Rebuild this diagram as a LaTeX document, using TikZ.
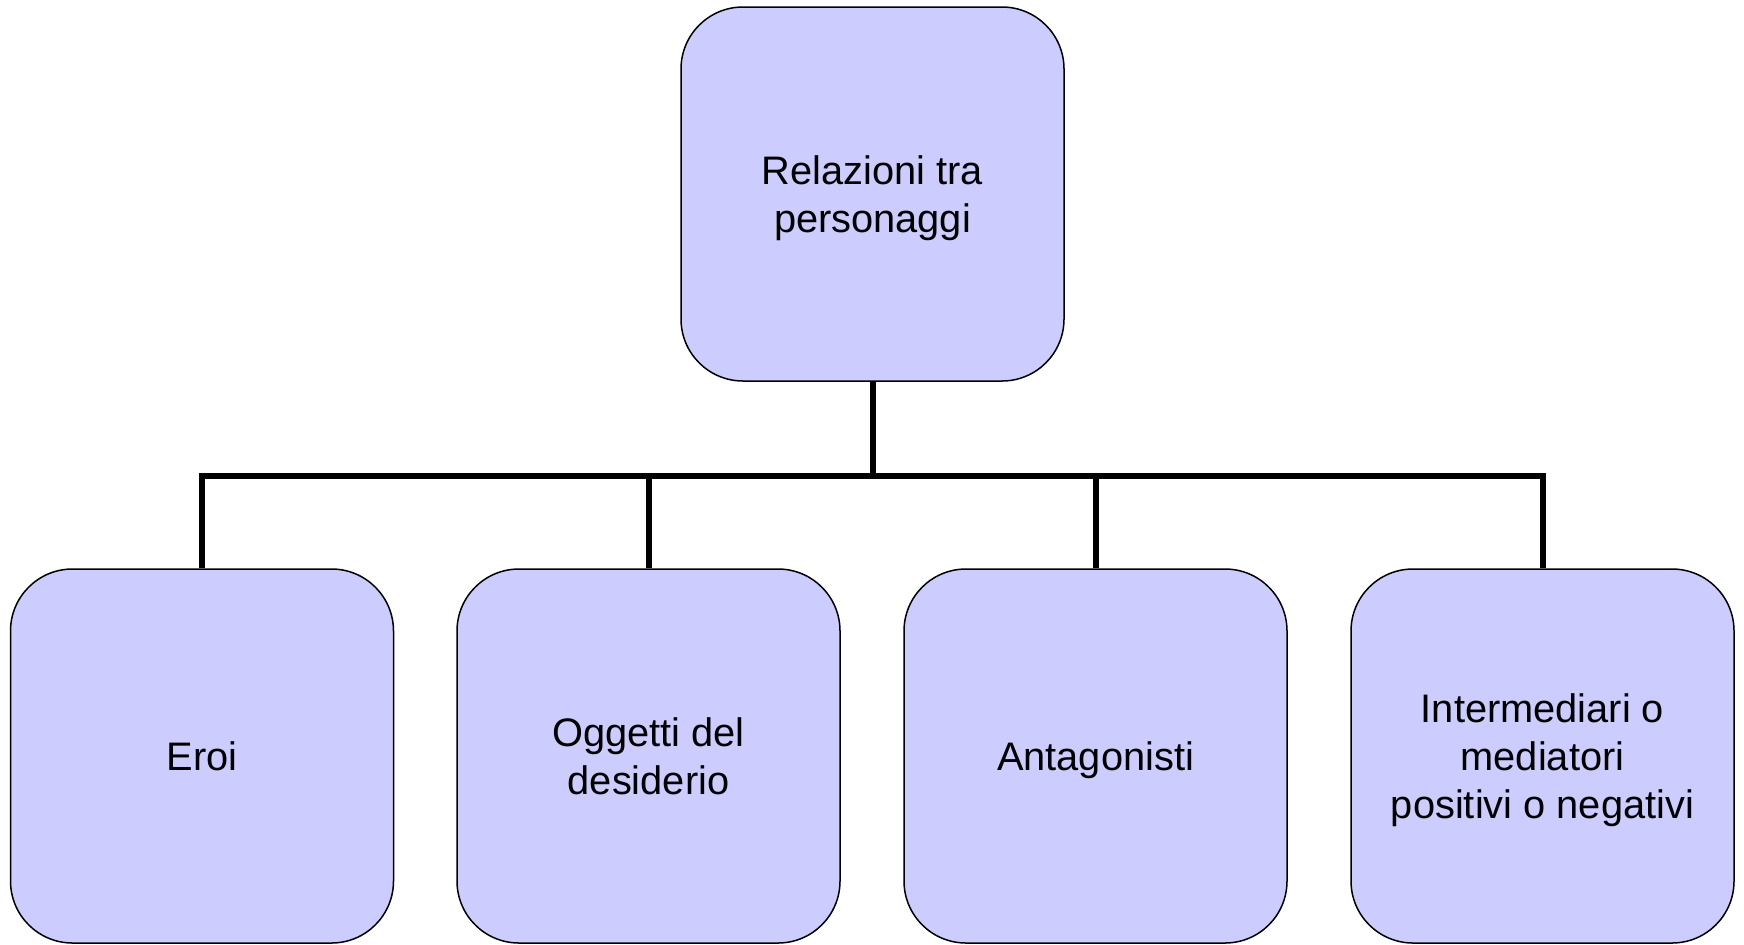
\documentclass[tikz,border=0pt]{standalone}
\usepackage{fontspec}
\setmainfont{Liberation Sans}
\usepackage{tikz}
\usetikzlibrary{positioning}

\definecolor{boxblue}{HTML}{CCCCFF}

\begin{document}
\begin{tikzpicture}[x=0.5pt,y=-0.5pt]
			\tikzstyle{every node}=[font=\fontsize{19.9}{24}\selectfont]
			\tikzstyle{ruolo}=[draw=black,line width=0.75pt,fill=boxblue,rounded corners=31pt,
				minimum width=191.5pt,minimum height=187pt,align=center,inner sep=0pt,text depth=0pt]
			\tikzstyle{ramo}=[line width=3pt]
			\useasboundingbox (0,0) rectangle (1744,944);
			
			%Kasten oben
			\node[ruolo] (rel) at (872.5,194) {Relazioni tra\\ personaggi};
			
			%Kaesten unten
			\node[ruolo] (eroi) at (202,756) {Eroi};
			\node[ruolo] (ogg) at (648.5,756) {Oggetti del\\ desiderio};
			\node[ruolo] (ant) at (1095.5,756) {Antagonisti};
			\node[ruolo] (med) at (1542.5,756) {Intermediari o\\ mediatori\\ positivi o negativi};
			
			%Linien
			\coordinate (bus) at (872.5,476);
			\draw[ramo] (rel.south) -- (bus);
			\draw[ramo] (bus) -| (eroi.north);
			\draw[ramo] (bus) -| (ogg.north);
			\draw[ramo] (bus) -| (ant.north);
			\draw[ramo] (bus) -| (med.north);
			
			\end{tikzpicture}
\end{document}
